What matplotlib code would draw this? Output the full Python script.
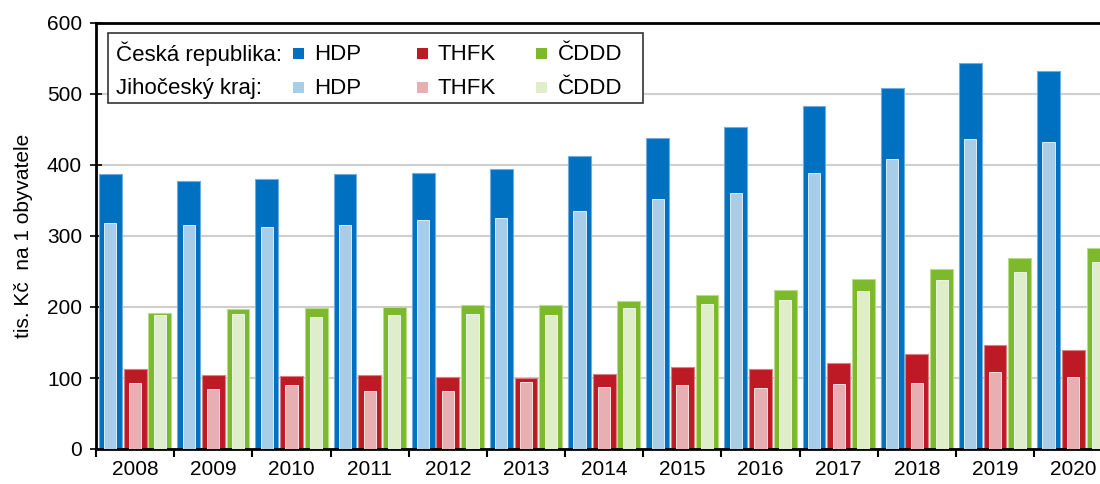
import matplotlib
matplotlib.use("Agg")
import matplotlib.pyplot as plt
import numpy as np
from matplotlib.patches import Rectangle

plt.rcParams['font.family'] = ['Liberation Sans', 'DejaVu Sans']

years = ['2008', '2009', '2010', '2011', '2012', '2013', '2014', '2015', '2016', '2017', '2018', '2019', '2020']
cr_hdp = [387, 377, 380, 387, 389, 394, 413, 438, 454, 483, 509, 543, 532]
jc_hdp = [319, 315, 313, 315, 323, 325, 335, 352, 361, 389, 408, 436, 433]
cr_thfk = [113, 104, 103, 104, 102, 100, 105, 116, 113, 121, 134, 147, 139]
jc_thfk = [93, 85, 90, 81, 81, 94, 88, 90, 86, 92, 93, 109, 101]
cr_cddd = [192, 197, 198, 200, 203, 203, 209, 217, 224, 239, 254, 269, 283]
jc_cddd = [189, 190, 186, 189, 190, 189, 199, 204, 210, 223, 238, 250, 263]

c_cr = ['#0070C0', '#BE1A25', '#7DB92C']
c_jc = ['#A7CDE8', '#E8AFB3', '#DFEDCB']
e_cr = ['#6FAEE0', '#E07C84', '#B9DC8A']

W, H = 1100, 484
fig = plt.figure(figsize=(W / 100, H / 100), dpi=100)
left_px, right_px = 96, 96 + 13 * 78.18
top_px, bot_px = 23, 449
ax = fig.add_axes([left_px / W, 1 - bot_px / H, (right_px - left_px) / W, (bot_px - top_px) / H])

x = np.arange(len(years))
off = 0.316
wo = 0.292
wi = 0.155
series = [(cr_hdp, jc_hdp), (cr_thfk, jc_thfk), (cr_cddd, jc_cddd)]
for k, (cr, jc) in enumerate(series):
    pos = x + (k - 1) * off
    ax.bar(pos, cr, width=wo, color=c_cr[k], edgecolor=e_cr[k], linewidth=0.8, zorder=2)
    ax.bar(pos, jc, width=wi, color=c_jc[k], edgecolor='#F4F8FB', linewidth=0.6, zorder=3)

ax.set_xlim(-0.5, 12.5)
ax.set_ylim(0, 600)
ax.set_yticks(range(0, 601, 100))
ax.yaxis.grid(True, color='#CFCFCF', linewidth=1.5, zorder=0)
ax.set_axisbelow(True)

ax.set_xticks(x)
ax.set_xticklabels(years, fontsize=15)
ax.set_xticks(np.arange(-0.5, 13, 1), minor=True)
ax.tick_params(axis='x', which='major', length=0, pad=8)
ax.tick_params(axis='x', which='minor', length=6, width=1.5, direction='out')
ax.tick_params(axis='y', labelsize=15, length=8, width=1.2, direction='inout', pad=6)

for s in ['left', 'bottom', 'top']:
    ax.spines[s].set_linewidth(2)
    ax.spines[s].set_color('black')
ax.spines['right'].set_visible(False)

ax.set_ylabel('tis. Kč  na 1 obyvatele', fontsize=15, labelpad=10)

# legend box drawn in figure pixels
def fx(px):
    return px / W

def fy(py):
    return 1 - py / H

box = Rectangle((fx(108), fy(103)), fx(643) - fx(108), fy(33) - fy(103),
                transform=fig.transFigure, facecolor='white', edgecolor='#333333',
                linewidth=1.2, zorder=10)
fig.patches.append(box)

rows = [('Česká republika:', c_cr, 54), ('Jihočeský kraj:', c_jc, 88)]
names = ['HDP', 'THFK', 'ČDDD']
sq_x = [293, 417, 536]
tx_x = [314, 438, 558]
for label, cols, yc in rows:
    fig.text(fx(116), fy(yc), label, fontsize=16, va='center', ha='left', zorder=11)
    for j in range(3):
        fig.patches.append(Rectangle((fx(sq_x[j]), fy(yc + 5)), fx(11), 11 / H,
                                     transform=fig.transFigure, facecolor=cols[j],
                                     edgecolor='none', zorder=11))
        fig.text(fx(tx_x[j]), fy(yc), names[j], fontsize=16, va='center', ha='left', zorder=11)

fig.savefig('out.png', dpi=100)
